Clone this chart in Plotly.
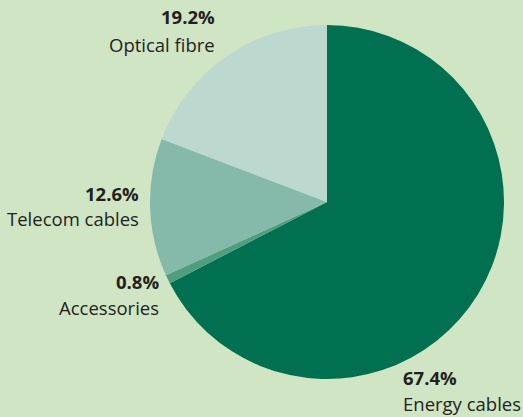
import plotly.graph_objects as go

# Market share by product segment
segments = ["Energy cables", "Accessories", "Telecom cables", "Optical fibre"]
shares = [67.4, 0.8, 12.6, 19.2]
colors = ["#007050", "#4f9e80", "#85b9aa", "#bdd8ce"]

W, H = 523, 417
bg = "#cfe5c4"
text_color = "#231f20"
font_size = 18.5

fig = go.Figure(
    go.Pie(
        labels=segments,
        values=shares,
        sort=False,
        direction="clockwise",
        rotation=0,
        marker=dict(colors=colors, line=dict(width=0)),
        textinfo="none",
        hoverinfo="label+percent",
        showlegend=False,
        domain=dict(x=[150 / W, 504 / W], y=[(H - 379) / H, (H - 25) / H]),
    )
)

# Label anchor positions (pixels): x, y of percentage line, y of name line, x-anchor
label_pos = {
    "Optical fibre": (217, 17, 44, "right"),
    "Telecom cables": (141, 193, 218, "right"),
    "Accessories": (161, 281, 307, "right"),
    "Energy cables": (401, 377, 403, "left"),
}

annotations = []
for name, val in zip(segments, shares):
    x, y1, y2, anchor = label_pos[name]
    annotations.append(dict(
        x=x / W, y=1 - y1 / H, xref="paper", yref="paper",
        text=f"<b>{val:.1f}%</b>", showarrow=False,
        xanchor=anchor, yanchor="middle",
        font=dict(size=font_size, color=text_color, family="Open Sans"),
    ))
    annotations.append(dict(
        x=x / W, y=1 - y2 / H, xref="paper", yref="paper",
        text=name, showarrow=False,
        xanchor=anchor, yanchor="middle",
        font=dict(size=font_size, color=text_color, family="Open Sans"),
    ))

fig.update_layout(
    width=W, height=H,
    margin=dict(l=0, r=0, t=0, b=0),
    paper_bgcolor=bg, plot_bgcolor=bg,
    annotations=annotations,
)

fig.write_html("out.html")
